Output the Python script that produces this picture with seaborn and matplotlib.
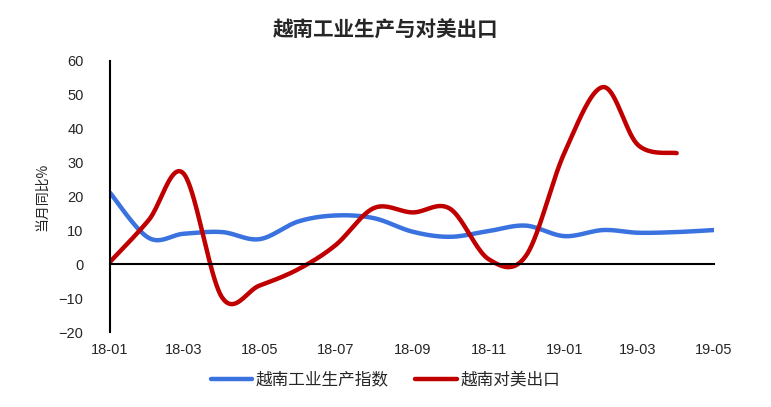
import numpy as np
import pandas as pd
import seaborn as sns
import matplotlib
matplotlib.use('Agg')
import matplotlib.pyplot as plt
import matplotlib.dates as mdates

months = pd.date_range('2018-01-01', '2019-05-01', freq='MS')
industry = [21.1, 7.8, 9.0, 9.5, 7.4, 12.6, 14.4, 13.6, 9.6, 8.1, 9.8, 11.4, 8.3, 10.1, 9.3, 9.5, 10.1]
export_us = [0.7, 13.0, 26.8, -9.8, -6.3, -1.5, 5.6, 16.6, 15.3, 16.4, 1.5, 2.5, 33.0, 52.3, 35.2, 32.8]
name_ind = '越南工业生产指数'
name_exp = '越南对美出口'
tick_months = ['18-01', '18-03', '18-05', '18-07', '18-09', '18-11', '19-01', '19-03', '19-05']


def smooth(x, y, n=40):
    # excel-style smoothed line: catmull-rom bezier through every point
    p = np.column_stack([x, y])
    p = np.vstack([p[0], p, p[-1]])
    t = np.linspace(0, 1, n)[:, None]
    out = []
    for i in range(1, len(p) - 2):
        p0, p1, p2, p3 = p[i - 1], p[i], p[i + 1], p[i + 2]
        c1 = p1 + (p2 - p0) / 6
        c2 = p2 - (p3 - p1) / 6
        seg = (1 - t) ** 3 * p1 + 3 * (1 - t) ** 2 * t * c1 + 3 * (1 - t) * t ** 2 * c2 + t ** 3 * p2
        out.append(seg if i == 1 else seg[1:])
    out = np.vstack(out)
    return out[:, 0], out[:, 1]


xnum = mdates.date2num(months)
frames = []
for name, vals in [(name_ind, industry), (name_exp, export_us)]:
    sx, sy = smooth(xnum[:len(vals)], np.array(vals))
    frames.append(pd.DataFrame({'date': mdates.num2date(sx), 'val': sy, 'series': name}))
df = pd.concat(frames, ignore_index=True)
df['date'] = pd.to_datetime(df['date']).dt.tz_localize(None)

sns.set_style('white')
plt.rcParams['font.family'] = ['Liberation Sans', 'Noto Sans CJK SC', 'DejaVu Sans']
cjk = ['Noto Sans CJK SC', 'DejaVu Sans']

fig = plt.figure(figsize=(7.71, 4.07), dpi=100)
ax = fig.add_axes([110 / 771, 1 - 332 / 407, (714 - 110) / 771, (332 - 61) / 407])

sns.lineplot(data=df, x='date', y='val', hue='series', sort=False, estimator=None,
             palette={name_ind: '#3a72e0', name_exp: '#c00000'}, linewidth=3.2,
             ax=ax, solid_capstyle='round')

ax.set_ylim(-20, 60)
ax.set_yticks(range(-20, 61, 10))
ax.set_xlim(months[0], months[-1])
ax.set_xticks(pd.to_datetime(['20' + m + '-01' for m in tick_months]))
ax.set_xticklabels(tick_months)

for s in ['top', 'right']:
    ax.spines[s].set_visible(False)
for s in ['left', 'bottom']:
    ax.spines[s].set_color('black')
    ax.spines[s].set_linewidth(1.5)
ax.spines['bottom'].set_position(('data', 0))
ax.tick_params(axis='y', direction='out', length=5, width=1.5, color='black', labelsize=10.5, pad=14)
ax.tick_params(axis='x', direction='out', length=5, width=1.5, color='black', labelsize=10.5, pad=52)
ax.set_xlabel('')
ax.set_ylabel('当月同比%', family=cjk, fontsize=10, labelpad=7)

fig.text(0.5, 1 - 30 / 407, '越南工业生产与对美出口', ha='center', va='center', fontsize=14.8,
         fontweight='bold', family=cjk)

sns.move_legend(ax, 'center', bbox_to_anchor=(0.5, 1 - 380 / 407), bbox_transform=fig.transFigure,
                ncol=2, frameon=False, title=None, handlelength=2.5, columnspacing=1.6, handletextpad=0.2,
                prop={'family': cjk, 'size': 12})

fig.savefig('out.png', dpi=100)
